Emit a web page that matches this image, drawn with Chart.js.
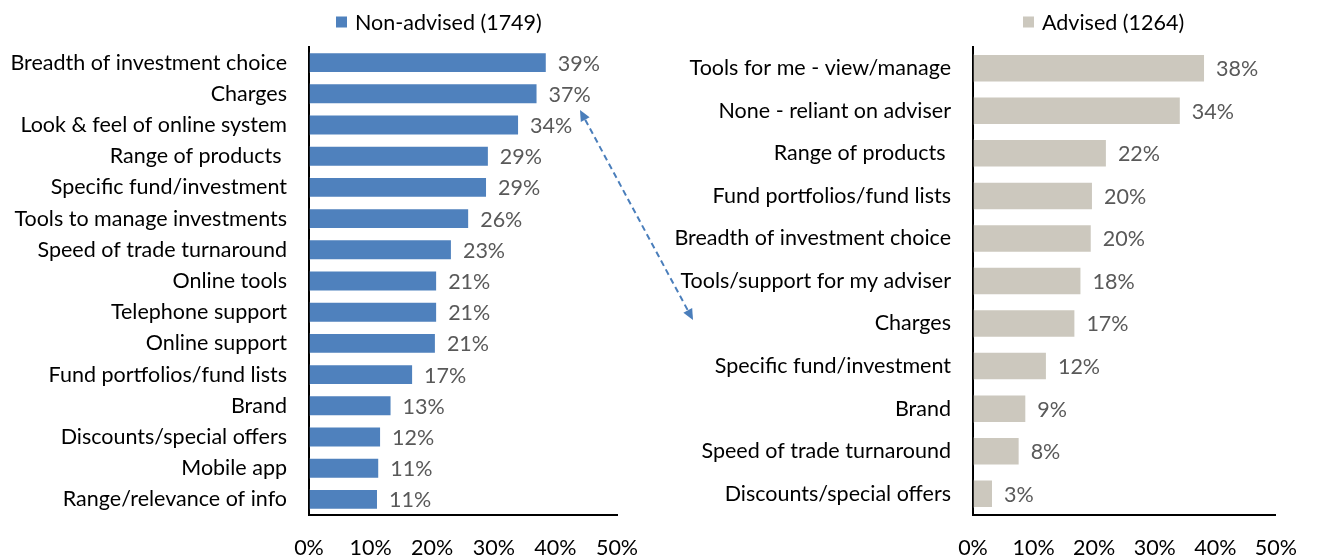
<!DOCTYPE html>
<html>
<head>
<meta charset="utf-8">
<script src="https://cdn.jsdelivr.net/npm/chart.js@4.4.0/dist/chart.umd.min.js"></script>
<style>
  html, body { margin: 0; padding: 0; background: #fff; }
  #wrap { position: relative; width: 1317px; height: 556px; }
  #leftBox { position: absolute; left: 0; top: 0; width: 700px; height: 556px; }
  #rightBox { position: absolute; left: 620px; top: 0; width: 697px; height: 556px; }
</style>
</head>
<body>
<div id="wrap">
  <div id="leftBox"><canvas id="leftChart"></canvas></div>
  <div id="rightBox"><canvas id="rightChart"></canvas></div>
</div>
<script>
// Данные
const nonAdvisedLabels = [
  'Breadth of investment choice', 'Charges', 'Look & feel of online system',
  'Range of products ', 'Specific fund/investment', 'Tools to manage investments',
  'Speed of trade turnaround', 'Online tools', 'Telephone support', 'Online support',
  'Fund portfolios/fund lists', 'Brand', 'Discounts/special offers', 'Mobile app',
  'Range/relevance of info'
];
const nonAdvisedValues = [38.6, 37.1, 34.1, 29.2, 28.9, 26.0, 23.2, 20.8, 20.8, 20.6, 16.9, 13.4, 11.7, 11.4, 11.2];

const advisedLabels = [
  'Tools for me - view/manage', 'None - reliant on adviser', 'Range of products ',
  'Fund portfolios/fund lists', 'Breadth of investment choice', 'Tools/support for my adviser',
  'Charges', 'Specific fund/investment', 'Brand', 'Speed of trade turnaround',
  'Discounts/special offers'
];
const advisedValues = [38.3, 34.3, 22.1, 19.8, 19.6, 17.9, 16.9, 12.2, 8.8, 7.7, 3.3];

const xTicks = [0, 10, 20, 30, 40, 50];
const xTickLabels = ['0%', '10%', '20%', '30%', '40%', '50%'];

const FONT = 'Lato';
const FONT_SIZE = 21.5;

// Подписи значений справа от столбцов
const valueLabels = {
  id: 'valueLabels',
  afterDatasetsDraw(chart) {
    const ctx = chart.ctx;
    const ds = chart.data.datasets[0];
    ctx.save();
    ctx.font = FONT_SIZE + 'px ' + FONT;
    ctx.fillStyle = '#595959';
    ctx.textAlign = 'left';
    ctx.textBaseline = 'middle';
    chart.getDatasetMeta(0).data.forEach((bar, i) => {
      ctx.fillText(Math.round(ds.data[i]) + '%', bar.x + 11, bar.y + 1);
    });
    ctx.restore();
  }
};

// Легенда (квадрат + текст)
const boxLegend = {
  id: 'boxLegend',
  afterDraw(chart, args, opts) {
    const ctx = chart.ctx;
    const ds = chart.data.datasets[0];
    ctx.save();
    ctx.fillStyle = ds.backgroundColor;
    ctx.fillRect(opts.x, opts.y - 5.5, 11, 11);
    ctx.font = FONT_SIZE + 'px ' + FONT;
    ctx.fillStyle = '#000';
    ctx.textAlign = 'left';
    ctx.textBaseline = 'middle';
    ctx.fillText(ds.label, opts.x + 19, opts.y + 1);
    ctx.restore();
  }
};

// Пунктирная стрелка между графиками
const dashedArrow = {
  id: 'dashedArrow',
  afterDraw(chart, args, opts) {
    if (!opts.from) return;
    const ctx = chart.ctx;
    const [x1, y1] = opts.from;
    const [x2, y2] = opts.to;
    const ang = Math.atan2(y2 - y1, x2 - x1);
    const head = 11, half = 5;
    ctx.save();
    ctx.strokeStyle = opts.color;
    ctx.fillStyle = opts.color;
    ctx.lineWidth = 2;
    ctx.setLineDash([6, 4]);
    ctx.beginPath();
    ctx.moveTo(x1 + Math.cos(ang) * head, y1 + Math.sin(ang) * head);
    ctx.lineTo(x2 - Math.cos(ang) * head, y2 - Math.sin(ang) * head);
    ctx.stroke();
    ctx.setLineDash([]);
    function tip(x, y, a) {
      ctx.beginPath();
      ctx.moveTo(x, y);
      ctx.lineTo(x - Math.cos(a) * head - Math.sin(a) * half, y - Math.sin(a) * head + Math.cos(a) * half);
      ctx.lineTo(x - Math.cos(a) * head + Math.sin(a) * half, y - Math.sin(a) * head - Math.cos(a) * half);
      ctx.closePath();
      ctx.fill();
    }
    tip(x2, y2, ang);
    tip(x1, y1, ang + Math.PI);
    ctx.restore();
  }
};

function makeChart(id, labels, values, label, color, axisWidth, padRight, legendPos, arrow) {
  return new Chart(document.getElementById(id), {
    type: 'bar',
    data: {
      labels: labels,
      datasets: [{
        label: label,
        data: values,
        backgroundColor: color,
        borderColor: 'rgba(255,255,255,0.55)',
        borderWidth: 1,
        barPercentage: 0.67,
        categoryPercentage: 1
      }]
    },
    options: {
      indexAxis: 'y',
      responsive: true,
      maintainAspectRatio: false,
      animation: false,
      layout: { padding: { top: 47, right: padRight, bottom: 0, left: 0 } },
      scales: {
        x: {
          min: 0,
          max: 50,
          afterBuildTicks: (scale) => { scale.ticks = xTicks.map(v => ({ value: v })); },
          afterFit: (scale) => { scale.height = 41; },
          ticks: {
            callback: (v, i) => xTickLabels[i],
            font: { family: FONT, size: FONT_SIZE },
            color: '#000',
            padding: 20,
            maxRotation: 0
          },
          grid: { display: true, drawOnChartArea: false, drawTicks: false },
          border: { display: true, color: '#000', width: 2 }
        },
        y: {
          afterFit: (scale) => { scale.width = axisWidth; },
          ticks: {
            font: { family: FONT, size: FONT_SIZE },
            color: '#000',
            padding: 22,
            autoSkip: false
          },
          grid: { display: true, drawOnChartArea: false, drawTicks: false },
          border: { display: true, color: '#000', width: 2 }
        }
      },
      plugins: {
        legend: { display: false },
        tooltip: { enabled: false },
        boxLegend: legendPos,
        dashedArrow: arrow
      }
    },
    plugins: [valueLabels, boxLegend, dashedArrow]
  });
}

makeChart('leftChart', nonAdvisedLabels, nonAdvisedValues, 'Non-advised (1749)', '#4f81bd',
  309, 83, { x: 336, y: 22 }, { from: [580, 110], to: [693, 320], color: '#4a7ebb' });
makeChart('rightChart', advisedLabels, advisedValues, 'Advised (1264)', '#ccc8be',
  353, 36, { x: 403, y: 22 }, {});
</script>
</body>
</html>
